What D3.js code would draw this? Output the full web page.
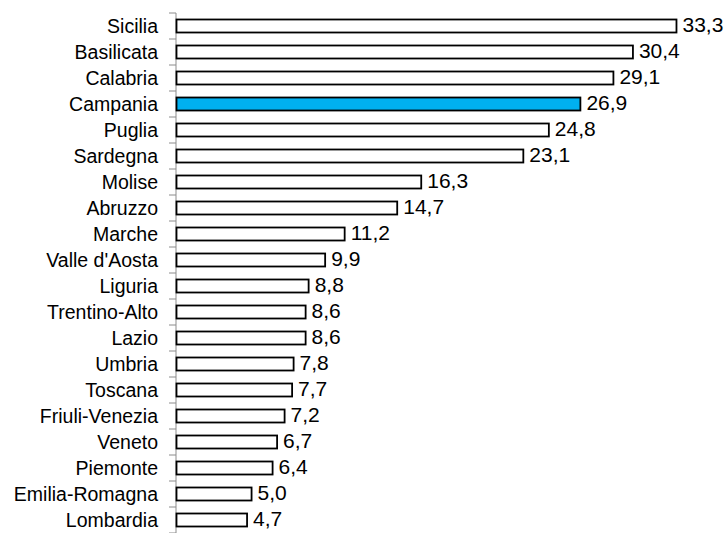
<!DOCTYPE html>
<html>
<head>
<meta charset="utf-8">
<script src="https://cdn.jsdelivr.net/npm/d3@7"></script>
<style>
  html, body { margin: 0; padding: 0; background: #fff; }
  svg { display: block; }
  text { font-family: "Liberation Sans", Arial, sans-serif; fill: #000; }
</style>
</head>
<body>
<svg id="chart" width="728" height="533"></svg>
<script>
const categories = ["Sicilia","Basilicata","Calabria","Campania","Puglia","Sardegna","Molise","Abruzzo","Marche","Valle d'Aosta","Liguria","Trentino-Alto","Lazio","Umbria","Toscana","Friuli-Venezia","Veneto","Piemonte","Emilia-Romagna","Lombardia"];
const values = [33.3,30.4,29.1,26.9,24.8,23.1,16.3,14.7,11.2,9.9,8.8,8.6,8.6,7.8,7.7,7.2,6.7,6.4,5.0,4.7];
const highlight = "Campania";

const svg = d3.select("#chart");
const x = d3.scaleLinear().domain([0, 35]).range([176, 701.5]);
const y = d3.scaleBand().domain(categories).range([13, 533]).paddingInner(0.5).paddingOuter(0.25);

// axis line + ticks at band boundaries
const step = y.step();
const boundaries = d3.range(categories.length + 1).map(i => 13 + i * step);
svg.append("line")
  .attr("x1", x(0)).attr("x2", x(0))
  .attr("y1", 13).attr("y2", 533)
  .attr("stroke", "#8c8c8c").attr("stroke-width", 1);
svg.selectAll(".tick").data(boundaries).join("line")
  .attr("x1", x(0) - 7).attr("x2", x(0))
  .attr("y1", d => d).attr("y2", d => d)
  .attr("stroke", "#8c8c8c").attr("stroke-width", 1);

// bars
svg.selectAll(".bar").data(categories).join("rect")
  .attr("x", x(0) + 0.5)
  .attr("y", d => y(d))
  .attr("width", (d, i) => x(values[i]) - x(0))
  .attr("height", y.bandwidth())
  .attr("fill", d => d === highlight ? "#00b0f0" : "#fff")
  .attr("stroke", "#000")
  .attr("stroke-width", 1.8);

// category labels
svg.selectAll(".lab").data(categories).join("text")
  .attr("x", 158)
  .attr("y", d => y(d) + y.bandwidth() / 2)
  .attr("dy", "0.36em")
  .attr("text-anchor", "end")
  .attr("font-size", 19.5)
  .text(d => d);

// value labels
svg.selectAll(".val").data(categories).join("text")
  .attr("x", (d, i) => x(values[i]) + 6.5)
  .attr("y", d => y(d) + y.bandwidth() / 2 - 2)
  .attr("dy", "0.36em")
  .attr("font-size", 21)
  .text((d, i) => values[i].toFixed(1).replace(".", ","));
</script>
</body>
</html>
